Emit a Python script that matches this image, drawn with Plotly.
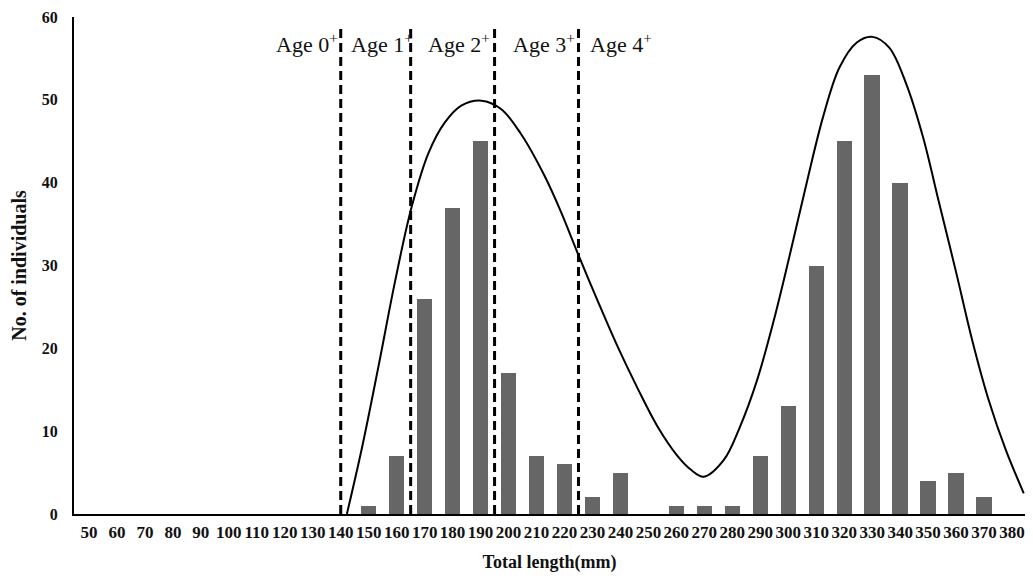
import plotly.graph_objects as go

# Bar data: total length classes (mm) and counts
length_classes = [50, 60, 70, 80, 90, 100, 110, 120, 130, 140, 150, 160, 170, 180, 190,
                  200, 210, 220, 230, 240, 250, 260, 270, 280, 290, 300, 310, 320, 330,
                  340, 350, 360, 370, 380]
counts = [0, 0, 0, 0, 0, 0, 0, 0, 0, 0, 1, 7, 26, 37, 45,
          17, 7, 6, 2, 5, 0, 1, 1, 1, 7, 13, 30, 45, 53,
          40, 4, 5, 2, 0]

# Fitted curve, points
curve_x = [142.2, 147.6, 153.6, 159.5, 165.3, 171.4, 177.3, 183.1, 190.3, 197.3, 204.4,
           212.9, 218.7, 224.7, 231.9, 239.0, 246.1, 253.2, 260.3, 265.0, 269.8, 276.9,
           282.7, 288.8, 294.7, 300.5, 306.6, 312.5, 318.3, 324.4, 330.1, 336.1, 342.2,
           348.1, 353.9, 360.0, 365.9, 371.7, 377.8, 384.2]
curve_y = [0.0, 8.0, 18.0, 28.2, 37.0, 43.6, 47.3, 49.3, 49.9, 48.9, 45.9,
           40.8, 36.5, 31.5, 25.7, 20.2, 15.2, 10.6, 7.05, 5.4, 4.5, 6.5,
           10.5, 16.1, 23.2, 31.2, 40.0, 48.0, 53.9, 56.9, 57.6, 56.3, 51.9,
           45.6, 37.6, 29.2, 20.8, 13.7, 7.7, 2.5]

# Age-class boundaries and labels
age_bounds = [140, 165, 195, 225]
age_labels = ["Age 0<sup>+</sup>", "Age 1<sup>+</sup>", "Age 2<sup>+</sup>",
              "Age 3<sup>+</sup>", "Age 4<sup>+</sup>"]
age_label_x = [128.1, 154.6, 182.2, 212.5, 240.2]
age_label_y = 56.9
bound_top = 59

SERIF = "Liberation Serif, Times New Roman, serif"

fig = go.Figure()
fig.add_trace(go.Bar(x=length_classes, y=counts, width=5.5,
                     marker=dict(color="#666666", line=dict(width=0)),
                     showlegend=False, hoverinfo="x+y"))
fig.add_trace(go.Scatter(x=curve_x, y=curve_y, mode="lines",
                         line=dict(color="black", width=2, shape="spline", smoothing=1.0),
                         showlegend=False))
for b in age_bounds:
    fig.add_trace(go.Scatter(x=[b, b], y=[0, bound_top], mode="lines",
                             line=dict(color="black", width=3, dash="9px,5px"),
                             showlegend=False, hoverinfo="skip"))

for lab, lx in zip(age_labels, age_label_x):
    fig.add_annotation(x=lx, y=age_label_y, text=lab, showarrow=False,
                       font=dict(family=SERIF, size=22, color="#111111"),
                       xanchor="center", yanchor="middle")

fig.update_layout(
    width=1017, height=565,
    margin=dict(l=66, r=0, t=9, b=58.5, autoexpand=False),
    plot_bgcolor="white", paper_bgcolor="white",
    bargap=0,
    xaxis=dict(range=[44.64, 384.64], tickmode="array", tickvals=length_classes,
               ticktext=[str(v) for v in length_classes],
               showgrid=False, zeroline=False, showline=True, linecolor="black",
               linewidth=2, ticks="", ticklabelstandoff=2,
               tickfont=dict(family=SERIF, size=17, color="#111111", weight="bold"),
               title=dict(text="Total length(mm)", standoff=28,
                          font=dict(family=SERIF, size=18, color="#111111", weight="bold")),
               automargin=False, fixedrange=True),
    yaxis=dict(range=[0, 60], tickvals=[0, 10, 20, 30, 40, 50, 60],
               showgrid=False, zeroline=False, showline=True, linecolor="black",
               linewidth=2, ticks="", ticklabelstandoff=11,
               tickfont=dict(family=SERIF, size=16, color="#111111", weight="bold"),
               title=dict(text="No. of individuals", standoff=12,
                          font=dict(family=SERIF, size=20, color="#111111", weight="bold")),
               automargin=False, fixedrange=True),
)

fig.write_html("out.html")
